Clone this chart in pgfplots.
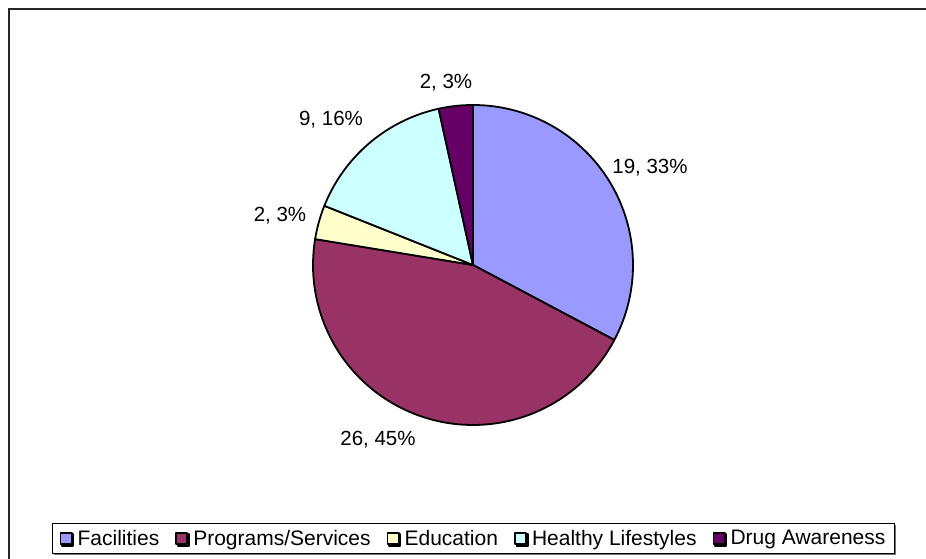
\documentclass[border=0pt]{standalone}
\usepackage{pgfplots}
\pgfplotsset{compat=1.18}
\usepackage{pgfplotstable}
\usepackage{fontspec}
\setmainfont{Liberation Sans}
\usetikzlibrary{shadows}
\definecolor{cFac}{HTML}{9999FF}
\definecolor{cPro}{HTML}{993366}
\definecolor{cEdu}{HTML}{FFFFCC}
\definecolor{cHea}{HTML}{CCFFFF}
\definecolor{cDru}{HTML}{660066}
\newcommand\lf{\fontsize{20.5bp}{24bp}\selectfont}
\newcommand\legf{\fontsize{21bp}{24bp}\selectfont}
\pgfplotstableread{
category value
Facilities 19
Programs/Services 26
Education 2
{Healthy Lifestyles} 9
{Drug Awareness} 2
}\piedata
\begin{document}%
\begin{tikzpicture}
\pgfplotstablegetelem{0}{value}\of\piedata \let\vA\pgfplotsretval
\pgfplotstablegetelem{1}{value}\of\piedata \let\vB\pgfplotsretval
\pgfplotstablegetelem{2}{value}\of\piedata \let\vC\pgfplotsretval
\pgfplotstablegetelem{3}{value}\of\piedata \let\vD\pgfplotsretval
\pgfplotstablegetelem{4}{value}\of\piedata \let\vE\pgfplotsretval
\pgfmathsetmacro{\tot}{\vA+\vB+\vC+\vD+\vE}
\pgfmathsetmacro{\aA}{90}
\pgfmathsetmacro{\aB}{\aA-360*\vA/\tot}
\pgfmathsetmacro{\aC}{\aB-360*\vB/\tot}
\pgfmathsetmacro{\aD}{\aC-360*\vC/\tot}
\pgfmathsetmacro{\aE}{\aD-360*\vD/\tot}
\pgfmathsetmacro{\aF}{\aE-360*\vE/\tot}
\begin{axis}[
  at={(0,0)}, anchor=south west,
  scale only axis, width=926bp, height=559bp,
  xmin=0, xmax=926, ymin=0, ymax=559,
  hide axis, clip=false,
  legend columns=-1,
  legend image code/.code={\draw[#1, draw=black, line width=1.8bp] (0bp,-5.6bp) rectangle (11.2bp,5.6bp);},
  legend style={at={(axis cs:473.5,20.5)}, anchor=center, draw=black, line width=1bp,
    font=\legf, inner xsep=7bp, inner ysep=5bp,
    drop shadow={shadow xshift=1.5bp, shadow yshift=-1.5bp, fill=black!55, opacity=1},
    /tikz/every odd column/.append style={column sep=3bp},
    /tikz/every even column/.append style={column sep=14bp}},
]
\addplot[fill=cFac, draw=black, line width=1.8bp, line join=round, domain=\aB:\aA, samples=80, variable=\t]
  ({473+160*cos(\t)},{294+160*sin(\t)}) -- (axis cs:473,294) -- cycle;
\addlegendentry{Facilities}
\addplot[fill=cPro, draw=black, line width=1.8bp, line join=round, domain=\aC:\aB, samples=100, variable=\t]
  ({473+160*cos(\t)},{294+160*sin(\t)}) -- (axis cs:473,294) -- cycle;
\addlegendentry{Programs/Services}
\addplot[fill=cEdu, draw=black, line width=1.8bp, line join=round, domain=\aD:\aC, samples=10, variable=\t]
  ({473+160*cos(\t)},{294+160*sin(\t)}) -- (axis cs:473,294) -- cycle;
\addlegendentry{Education}
\addplot[fill=cHea, draw=black, line width=1.8bp, line join=round, domain=\aE:\aD, samples=40, variable=\t]
  ({473+160*cos(\t)},{294+160*sin(\t)}) -- (axis cs:473,294) -- cycle;
\addlegendentry{Healthy Lifestyles}
\addplot[fill=cDru, draw=black, line width=1.8bp, line join=round, domain=\aF:\aE, samples=10, variable=\t]
  ({473+160*cos(\t)},{294+160*sin(\t)}) -- (axis cs:473,294) -- cycle;
\addlegendentry{Drug Awareness}
\node[font=\lf] at (axis cs:650,391) {19, 33\%};
\node[font=\lf] at (axis cs:378,119) {26, 45\%};
\node[font=\lf] at (axis cs:280,343) {2, 3\%};
\node[font=\lf] at (axis cs:331,439) {9, 16\%};
\node[font=\lf] at (axis cs:446,476) {2, 3\%};
\end{axis}
\draw[black!85, line width=2bp] (8.5bp,-10bp) -- (8.5bp,550bp) -- (940bp,550bp);
\pgfresetboundingbox
\useasboundingbox (0,0) rectangle (926bp,559bp);
\end{tikzpicture}%
\end{document}
